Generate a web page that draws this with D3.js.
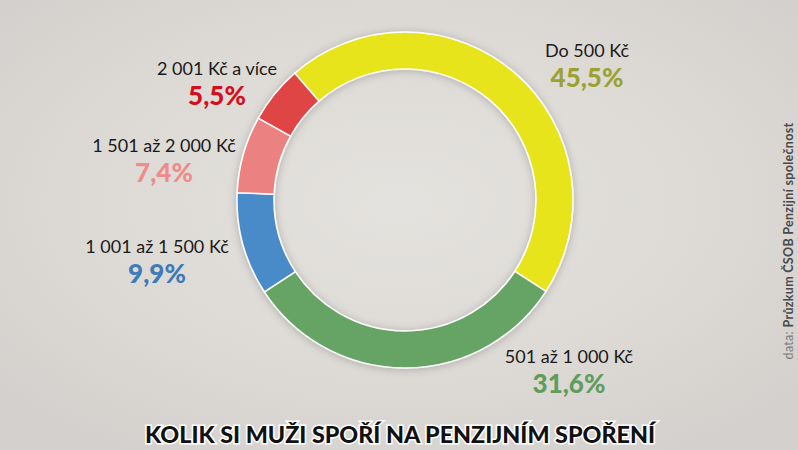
<!DOCTYPE html>
<html>
<head>
<meta charset="utf-8">
<script src="https://cdn.jsdelivr.net/npm/d3@7"></script>
<style>
  html, body { margin: 0; padding: 0; background: #dedbd7; }
  svg { display: block; }
  .lbl { font-family: Lato, sans-serif; font-size: 18px; fill: #1a1a1a; }
  .pct { font-family: Lato, sans-serif; font-size: 26px; font-weight: 900; }
</style>
</head>
<body>
<svg id="chart"></svg>
<script>
// data
var categories = ['Do 500 Kč', '501 až 1 000 Kč', '1 001 až 1 500 Kč', '1 501 až 2 000 Kč', '2 001 Kč a více'];
var values = [45.5, 31.6, 9.9, 7.4, 5.5];
var pctLabels = ['45,5%', '31,6%', '9,9%', '7,4%', '5,5%'];
var sliceColors = ['#e8e41c', '#66a466', '#4a8ac8', '#ec8181', '#e04444'];
var pctColors = ['#9ba232', '#5f9d5d', '#3d7bb9', '#f08b8b', '#d40f1c'];
// where each label sits (centre x, baseline of the range line)
var labelPos = [[587, 57], [569, 363], [157, 253], [164, 152], [217, 75]];
var title = 'KOLIK SI MUŽI SPOŘÍ NA PENZIJNÍM SPOŘENÍ';
var source = ['data: ', 'Průzkum ČSOB Penzijní společnost'];

var width = 798, height = 450;
var cx = 405, cy = 200, rOut = 168, rIn = 131;

var svg = d3.select('#chart')
    .attr('width', width)
    .attr('height', height);

var defs = svg.append('defs');
var bg = defs.append('radialGradient')
    .attr('id', 'bg')
    .attr('cx', '50%').attr('cy', '45%').attr('r', '65%');
bg.append('stop').attr('offset', '0%').attr('stop-color', '#e4e2de');
bg.append('stop').attr('offset', '60%').attr('stop-color', '#dddad6');
bg.append('stop').attr('offset', '100%').attr('stop-color', '#d3d0cd');

var shadow = defs.append('filter')
    .attr('id', 'shadow')
    .attr('x', '-20%').attr('y', '-20%').attr('width', '140%').attr('height', '140%');
shadow.append('feDropShadow')
    .attr('dx', 0).attr('dy', 1)
    .attr('stdDeviation', 4)
    .attr('flood-color', '#000')
    .attr('flood-opacity', 0.22);

svg.append('rect')
    .attr('width', width).attr('height', height)
    .attr('fill', 'url(#bg)');

// donut
var pie = d3.pie()
    .sort(null)
    .startAngle(-41 * Math.PI / 180)
    .endAngle(-41 * Math.PI / 180 + 2 * Math.PI);
var arc = d3.arc().innerRadius(rIn).outerRadius(rOut);

var ring = svg.append('g')
    .attr('transform', 'translate(' + cx + ',' + cy + ')')
    .attr('filter', 'url(#shadow)');

ring.selectAll('path')
    .data(pie(values))
    .enter()
    .append('path')
    .attr('d', arc)
    .attr('fill', function(d, i) { return sliceColors[i]; })
    .attr('stroke', '#ffffff')
    .attr('stroke-width', 1.5);

// labels
var labels = svg.selectAll('.label')
    .data(categories)
    .enter()
    .append('g')
    .attr('class', 'label')
    .attr('transform', function(d, i) {
        return 'translate(' + labelPos[i][0] + ',' + labelPos[i][1] + ')';
    });
labels.append('text')
    .attr('class', 'lbl')
    .attr('text-anchor', 'middle')
    .text(function(d) { return d; });
labels.append('text')
    .attr('class', 'pct')
    .attr('text-anchor', 'middle')
    .attr('y', 30)
    .attr('fill', function(d, i) { return pctColors[i]; })
    .text(function(d, i) { return pctLabels[i]; });

// title with white outline
svg.append('text')
    .attr('x', 400).attr('y', 443)
    .attr('text-anchor', 'middle')
    .attr('textLength', 510)
    .attr('lengthAdjust', 'spacingAndGlyphs')
    .style('font-family', 'Lato, sans-serif')
    .style('font-size', '22px')
    .style('font-weight', 900)
    .attr('fill', '#111')
    .attr('stroke', '#ffffff')
    .attr('stroke-width', 3)
    .attr('paint-order', 'stroke')
    .text(title);

// vertical source note
var src = svg.append('text')
    .attr('transform', 'translate(793,241) rotate(-90)')
    .attr('text-anchor', 'middle')
    .style('font-family', 'Lato, sans-serif')
    .style('font-size', '12.5px')
    .style('letter-spacing', '0.3px');
src.append('tspan').attr('fill', '#7a7a7a').text(source[0]);
src.append('tspan').attr('fill', '#4a4a4a').style('font-weight', 700).text(source[1]);
</script>
</body>
</html>
